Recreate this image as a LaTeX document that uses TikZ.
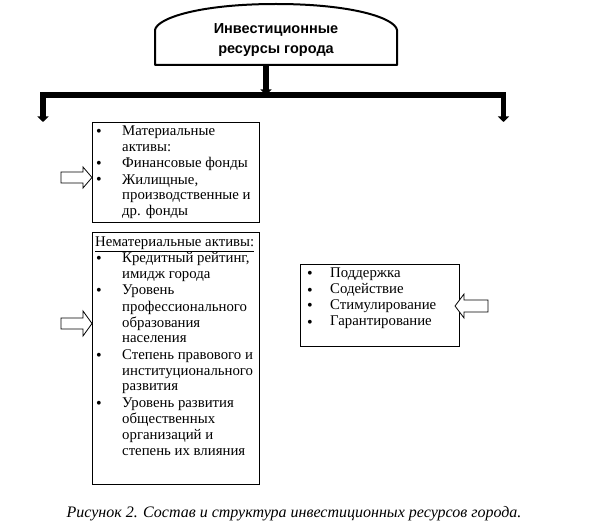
\documentclass[tikz,border=0pt]{standalone}
\usepackage{fontspec}
\setmainfont{Liberation Serif}
\newfontfamily\titlefont{Liberation Sans}
\usetikzlibrary{arrows.meta}
\tikzset{
  box/.style={draw, line width=0.9pt, anchor=north west, inner sep=0pt},
  txt/.style={anchor=base west, inner sep=0pt, align=left, font=\fontsize{14.8}{16}\selectfont},
  bul/.style={anchor=base, inner sep=0pt, font=\fontsize{16}{16}\selectfont},
  thickarrow/.style={line width=6pt, line join=miter, -{Triangle[width=11pt,length=5.5pt]}},
  hollow/.style={draw, line width=0.8pt, fill=white, line join=miter},
}
\begin{document}
\begin{tikzpicture}[x=1pt,y=-1pt]
\useasboundingbox (0,0) rectangle (590,532);
% top shape
\draw[line width=2pt, line join=round] (155,65) -- (155,30) .. controls (157,18) and (200,4) .. (276,4) .. controls (352,4) and (395,18) .. (397,30) -- (397,65) -- cycle;
\node[align=center, inner sep=0pt, font=\titlefont\bfseries\fontsize{14.5}{20}\selectfont] (t) at (276,40) {Инвестиционные\\ресурсы города};
\coordinate (tb) at (266,66);
\coordinate (hub) at (266,95);
\coordinate (L) at (43,122);
\coordinate (R) at (503.5,122);
\draw[thickarrow] (tb) -- (hub);
\draw[line width=5.5pt, line join=miter, {Triangle[width=11pt,length=5.5pt]}-{Triangle[width=11pt,length=5.5pt]}] (L) -- (L |- hub) -- (R |- hub) -- (R);
% box 1
\node[box, minimum width=167, minimum height=100] (m) at (92,122) {};
\node[bul] (m1b) at (99,137) {•};
\node[txt] (m1) at (122,152) {Материальные\\активы:};
\node[bul] (m2b) at (99,169) {•};
\node[txt] (m2) at (122,168) {Финансовые фонды};
\node[bul] (m3b) at (99,185) {•};
\node[txt] (m3) at (122,216) {Жилищные,\\производственные и\\др. фонды};
\draw[hollow] (61,172) -- (83,172) -- (83,167) -- (m.west |- 0,177.5) -- (83,188) -- (83,183) -- (61,183) -- cycle;
% box 2
\node[box, minimum width=167, minimum height=252] (n) at (92,232) {};
\node[txt] (n0) at (95,247) {\underline{Нематериальные активы:}};
\node[bul] (n1b) at (99,264) {•};
\node[txt] (n1) at (122,279) {Кредитный рейтинг,\\имидж города};
\node[bul] (n2b) at (99,296) {•};
\node[txt] (n2) at (122,343) {Уровень\\профессионального\\образования\\населения};
\node[bul] (n3b) at (99,360) {•};
\node[txt] (n3) at (122,391) {Степень правового и\\институционального\\развития};
\node[bul] (n4b) at (99,408) {•};
\node[txt] (n4) at (122,455) {Уровень развития\\общественных\\организаций и\\степень их влияния};
\draw[hollow] (61,318) -- (83,318) -- (83,311) -- (n.west |- 0,323.5) -- (83,336) -- (83,329) -- (61,329) -- cycle;
% box 3
\node[box, minimum width=159, minimum height=82] (s) at (300,264) {};
\node[bul] (s1b) at (310,279) {•};
\node[txt] (s1) at (330,278) {Поддержка};
\node[bul] (s2b) at (310,295) {•};
\node[txt] (s2) at (330,294) {Содействие};
\node[bul] (s3b) at (310,311) {•};
\node[txt] (s3) at (330,310) {Стимулирование};
\node[bul] (s4b) at (310,327) {•};
\node[txt] (s4) at (330,326) {Гарантирование};
\draw[hollow] (488,300) -- (464,300) -- (464,294) -- (455,306) -- (464,318) -- (464,312) -- (488,312) -- cycle;
% caption
\node[anchor=base, inner sep=0pt, font=\itshape\fontsize{16}{16}\selectfont] (cap) at (294,517) {Рисунок 2. Состав и структура инвестиционных ресурсов города.};
\end{tikzpicture}
\end{document}
